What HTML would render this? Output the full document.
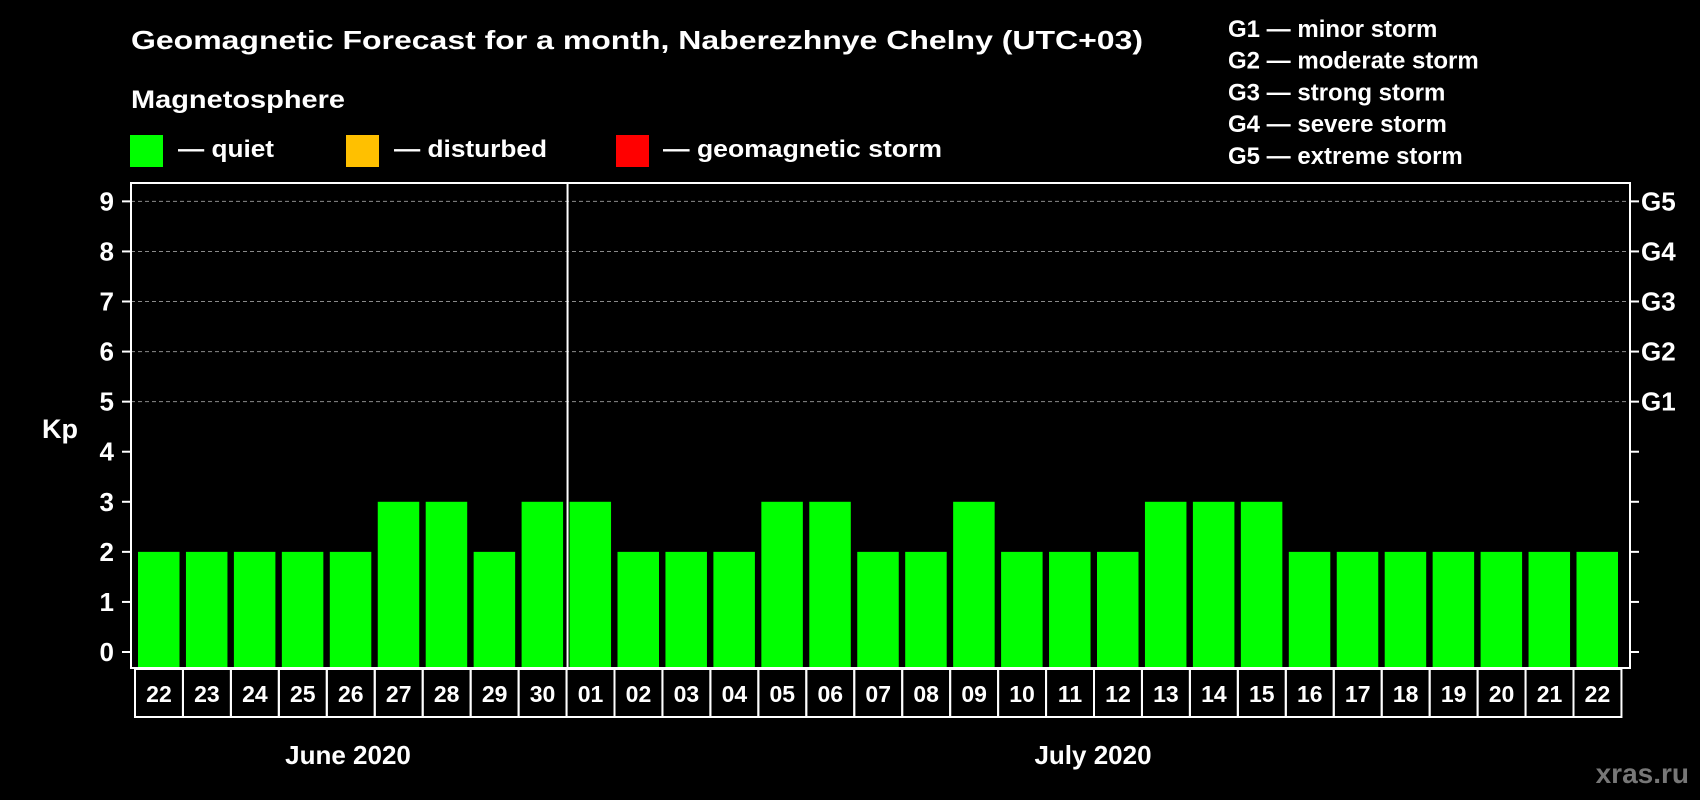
<!DOCTYPE html>
<html><head><meta charset="utf-8"><style>
html,body{margin:0;padding:0;background:#000;}
svg{display:block;font-family:"Liberation Sans",Arial,sans-serif;font-weight:bold;}
</style></head><body>
<svg id="chart" width="1700" height="800" viewBox="0 0 1700 800" xmlns="http://www.w3.org/2000/svg">
<rect width="1700" height="800" fill="#000"/>
<text x="131" y="49" fill="#fff" font-size="26" textLength="1012" lengthAdjust="spacingAndGlyphs">Geomagnetic Forecast for a month, Naberezhnye Chelny (UTC+03)</text>
<text x="131" y="108" fill="#fff" font-size="25" textLength="214" lengthAdjust="spacingAndGlyphs">Magnetosphere</text>
<g>
<rect x="130" y="135" width="33" height="32" fill="#00ff00"/>
<text x="178" y="157" fill="#fff" font-size="24" textLength="96" lengthAdjust="spacingAndGlyphs">— quiet</text></g>
<g>
<rect x="346" y="135" width="33" height="32" fill="#ffc000"/>
<text x="394" y="157" fill="#fff" font-size="24" textLength="153" lengthAdjust="spacingAndGlyphs">— disturbed</text></g>
<g>
<rect x="616" y="135" width="33" height="32" fill="#ff0000"/>
<text x="663" y="157" fill="#fff" font-size="24" textLength="279" lengthAdjust="spacingAndGlyphs">— geomagnetic storm</text></g>
<g id="glegend"></g>
<g id="plot"></g>
<text x="42" y="438" fill="#fff" font-size="27">Kp</text>
<text x="348" y="764" fill="#fff" font-size="26" text-anchor="middle">June 2020</text>
<text x="1093" y="764" fill="#fff" font-size="26" text-anchor="middle">July 2020</text>
<text x="1689" y="783" fill="#777" font-size="28" text-anchor="end">xras.ru</text>
</svg>
<script>
const days = ["22","23","24","25","26","27","28","29","30","01","02","03","04","05","06","07","08","09","10","11","12","13","14","15","16","17","18","19","20","21","22"];
const kpValues = [2,2,2,2,2,3,3,2,3,3,2,2,2,3,3,2,2,3,2,2,2,3,3,3,2,2,2,2,2,2,2];
const yTicks = [0,1,2,3,4,5,6,7,8,9];
const gLabels = ["G1","G2","G3","G4","G5"];
const gLevels = [5,6,7,8,9];
const stormNames = ["minor storm","moderate storm","strong storm","severe storm","extreme storm"];
const monthBreakIndex = 9;

const NS = "http://www.w3.org/2000/svg";
const L = 131, R = 1630, T = 183, B = 668;
const X0 = 135, PITCH = 47.95, BW = 41.5;
function y(v){ return 652 - v * 50.07; }
function x(i){ return X0 + i * PITCH; }
function mk(tag, attrs, parent){ const e = document.createElementNS(NS, tag); for (const k in attrs) e.setAttribute(k, attrs[k]); parent.appendChild(e); return e; }
function colorFor(v){ return v >= 5 ? "#ff0000" : (v >= 4 ? "#ffc000" : "#00ff00"); }

const plot = document.getElementById("plot");
// gridlines
gLevels.forEach(v => {
  const g = mk("line", {x1: L, x2: R, y1: y(v), y2: y(v), stroke: "#8a8a8a", "stroke-width": 1, "stroke-dasharray": "4,3"}, plot);
  
  
});
// bars
kpValues.forEach((v, i) => {
  const b = mk("rect", {x: x(i) + 3, y: y(v), width: BW, height: B - y(v), fill: colorFor(v)}, plot);
  
  
});
// frame
const fr = mk("rect", {x: L, y: T, width: R - L, height: B - T, fill: "none", stroke: "#fff", "stroke-width": 2}, plot);


// month separator
const sx = x(monthBreakIndex) - 0.5 + 1.5;
const sep = mk("line", {x1: sx, x2: sx, y1: T, y2: B, stroke: "#fff", "stroke-width": 2}, plot);


// y ticks & labels
yTicks.forEach(v => {
  const t = mk("line", {x1: L - 9, x2: L, y1: y(v), y2: y(v), stroke: "#fff", "stroke-width": 2}, plot);
  
  
  const t2 = mk("line", {x1: R, x2: R + 9, y1: y(v), y2: y(v), stroke: "#fff", "stroke-width": 2}, plot);
  
  
  const lb = mk("text", {x: 114, y: y(v) + 9, fill: "#fff", "font-size": 26, "text-anchor": "end"}, plot);
  lb.textContent = v;
  
  
});
// G labels
gLabels.forEach((g, i) => {
  const lb = mk("text", {x: 1641, y: y(gLevels[i]) + 9, fill: "#fff", "font-size": 26}, plot);
  lb.textContent = g;
  
  
});
// day boxes
days.forEach((d, i) => {
  const r = mk("rect", {x: x(i), y: B + 1, width: PITCH, height: 48, fill: "none", stroke: "#fff", "stroke-width": 2}, plot);
  
  
  const t = mk("text", {x: x(i) + PITCH / 2, y: B + 34, fill: "#fff", "font-size": 23, "text-anchor": "middle"}, plot);
  t.textContent = d;
  
  
});
// storm legend
const gl = document.getElementById("glegend");
gLabels.forEach((g, i) => {
  const t = mk("text", {x: 1228, y: 37 + i * 31.7, fill: "#fff", "font-size": 24}, gl);
  t.textContent = g + " — " + stormNames[i];
  
  
});
</script>
</body></html>
